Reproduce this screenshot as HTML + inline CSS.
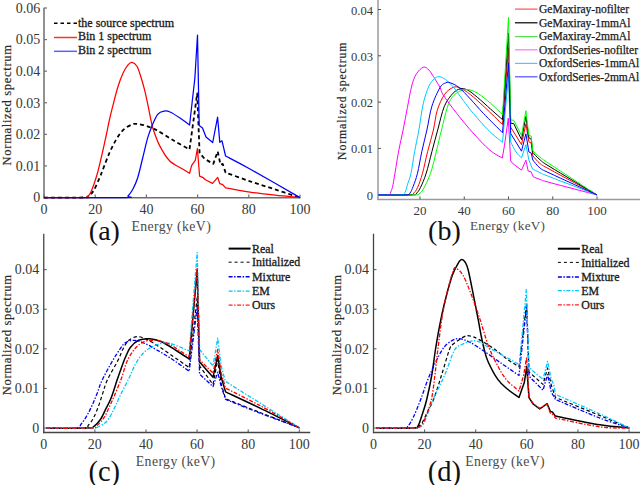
<!DOCTYPE html>
<html><head><meta charset="utf-8"><style>
html,body{margin:0;padding:0;background:#fff;}
body{width:640px;height:485px;overflow:hidden;}
svg{display:block;font-family:"Liberation Serif",serif;}
</style></head><body>
<svg width="640" height="485" viewBox="0 0 640 485">
<rect width="640" height="485" fill="#fff"/>
<line x1="44.00" y1="7.80" x2="44.00" y2="198.40" stroke="#6e6e6e" stroke-width="1.5"/>
<line x1="43.30" y1="197.70" x2="300.50" y2="197.70" stroke="#6e6e6e" stroke-width="1.5"/>
<line x1="44.00" y1="197.50" x2="47.00" y2="197.50" stroke="#6e6e6e" stroke-width="1.2"/>
<text x="40.20" y="202.30" font-size="14" text-anchor="end" fill="#383838">0</text>
<line x1="44.00" y1="165.92" x2="47.00" y2="165.92" stroke="#6e6e6e" stroke-width="1.2"/>
<text x="40.20" y="170.72" font-size="14" text-anchor="end" fill="#383838">0.01</text>
<line x1="44.00" y1="134.33" x2="47.00" y2="134.33" stroke="#6e6e6e" stroke-width="1.2"/>
<text x="40.20" y="139.13" font-size="14" text-anchor="end" fill="#383838">0.02</text>
<line x1="44.00" y1="102.75" x2="47.00" y2="102.75" stroke="#6e6e6e" stroke-width="1.2"/>
<text x="40.20" y="107.55" font-size="14" text-anchor="end" fill="#383838">0.03</text>
<line x1="44.00" y1="71.17" x2="47.00" y2="71.17" stroke="#6e6e6e" stroke-width="1.2"/>
<text x="40.20" y="75.97" font-size="14" text-anchor="end" fill="#383838">0.04</text>
<line x1="44.00" y1="39.58" x2="47.00" y2="39.58" stroke="#6e6e6e" stroke-width="1.2"/>
<text x="40.20" y="44.38" font-size="14" text-anchor="end" fill="#383838">0.05</text>
<line x1="44.00" y1="8.00" x2="47.00" y2="8.00" stroke="#6e6e6e" stroke-width="1.2"/>
<text x="40.20" y="12.80" font-size="14" text-anchor="end" fill="#383838">0.06</text>
<line x1="44.00" y1="197.60" x2="44.00" y2="194.60" stroke="#6e6e6e" stroke-width="1.2"/>
<text x="44.00" y="213.90" font-size="14" text-anchor="middle" fill="#383838">0</text>
<line x1="95.20" y1="197.60" x2="95.20" y2="194.60" stroke="#6e6e6e" stroke-width="1.2"/>
<text x="95.20" y="213.90" font-size="14" text-anchor="middle" fill="#383838">20</text>
<line x1="146.40" y1="197.60" x2="146.40" y2="194.60" stroke="#6e6e6e" stroke-width="1.2"/>
<text x="146.40" y="213.90" font-size="14" text-anchor="middle" fill="#383838">40</text>
<line x1="197.60" y1="197.60" x2="197.60" y2="194.60" stroke="#6e6e6e" stroke-width="1.2"/>
<text x="197.60" y="213.90" font-size="14" text-anchor="middle" fill="#383838">60</text>
<line x1="248.80" y1="197.60" x2="248.80" y2="194.60" stroke="#6e6e6e" stroke-width="1.2"/>
<text x="248.80" y="213.90" font-size="14" text-anchor="middle" fill="#383838">80</text>
<line x1="300.00" y1="197.60" x2="300.00" y2="194.60" stroke="#6e6e6e" stroke-width="1.2"/>
<text x="300.00" y="213.90" font-size="14" text-anchor="middle" fill="#383838">100</text>
<text x="171.10" y="230.60" font-size="13.8" text-anchor="middle" fill="#4a4a4a" textLength="79.40" lengthAdjust="spacing">Energy (keV)</text>
<text transform="translate(10.80 105.20) rotate(-90)" x="0" y="0" font-size="12.6" text-anchor="middle" fill="#2a2a2a" stroke="#2a2a2a" stroke-width="0.18" textLength="120.40" lengthAdjust="spacing">Normalized spectrum</text>
<text x="104.40" y="239.70" font-size="28" text-anchor="middle" fill="#111">(a)</text>
<path d="M44.00 197.60 C50.67 197.58 76.67 197.67 84.00 197.50 C91.33 197.33 86.37 197.80 88.00 196.60 C89.63 195.40 91.88 193.40 93.80 190.30 C95.72 187.20 98.02 181.38 99.50 178.00 C100.98 174.62 101.05 174.17 102.70 170.00 C104.35 165.83 107.25 157.90 109.40 153.00 C111.55 148.10 113.37 144.38 115.60 140.60 C117.83 136.82 120.13 132.97 122.80 130.30 C125.47 127.63 129.30 125.67 131.60 124.60 C133.90 123.53 134.20 123.70 136.60 123.90 C139.00 124.10 142.52 124.67 146.00 125.80 C149.48 126.93 153.02 128.32 157.50 130.70 C161.98 133.08 167.57 136.97 172.90 140.10 C178.23 143.23 186.73 147.93 189.50 149.50 L197.20 93.50 L199.60 153.00 L204.70 158.90 L213.30 163.90 L217.70 151.40 L220.50 164.70 L222.70 163.90 L225.60 172.60 C229.67 174.05 241.77 178.50 250.00 181.30 C258.23 184.10 266.67 186.68 275.00 189.40 C283.33 192.12 295.83 196.23 300.00 197.60" fill="none" stroke="#000000" stroke-width="1.8" stroke-dasharray="4,3" stroke-linejoin="round"/>
<path d="M44.00 197.60 C50.67 197.58 76.83 197.63 84.00 197.50 C91.17 197.37 86.08 197.28 87.00 196.80 C87.92 196.32 88.62 195.93 89.50 194.60 C90.38 193.27 91.10 191.93 92.30 188.80 C93.50 185.67 95.50 179.77 96.70 175.80 C97.90 171.83 98.45 169.30 99.50 165.00 C100.55 160.70 101.85 155.08 103.00 150.00 C104.15 144.92 105.33 139.50 106.40 134.50 C107.47 129.50 108.27 125.02 109.40 120.00 C110.53 114.98 111.75 110.02 113.20 104.40 C114.65 98.78 116.45 91.52 118.10 86.30 C119.75 81.08 121.45 76.68 123.10 73.10 C124.75 69.52 126.48 66.58 128.00 64.80 C129.52 63.02 130.68 62.12 132.20 62.40 C133.72 62.68 135.60 63.90 137.10 66.50 C138.60 69.10 139.97 74.15 141.20 78.00 C142.43 81.85 143.40 85.20 144.50 89.60 C145.60 94.00 146.70 99.18 147.80 104.40 C148.90 109.62 150.18 116.70 151.10 120.90 C152.02 125.10 151.83 125.40 153.30 129.60 C154.77 133.80 157.15 140.87 159.90 146.10 C162.65 151.33 165.95 157.15 169.80 161.00 C173.65 164.85 179.72 167.15 183.00 169.20 C186.28 171.25 188.42 172.62 189.50 173.30 L191.70 165.40 L195.30 160.30 L197.40 148.50 L199.60 176.20 L203.20 177.70 L205.40 179.80 L212.60 183.40 L217.70 177.40 L219.80 183.70 L222.70 184.60 L225.60 187.80 C229.67 188.52 241.77 190.87 250.00 192.10 C258.23 193.33 266.67 194.28 275.00 195.20 C283.33 196.12 295.83 197.20 300.00 197.60" fill="none" stroke="#ff0000" stroke-width="1.25" stroke-linejoin="round"/>
<path d="M44.00 197.60 C57.42 197.58 110.50 197.77 124.50 197.50 C138.50 197.23 126.62 197.37 128.00 196.00 C129.38 194.63 131.18 192.35 132.80 189.30 C134.42 186.25 136.05 182.92 137.70 177.70 C139.35 172.48 141.05 164.60 142.70 158.00 C144.35 151.40 146.05 143.45 147.60 138.10 C149.15 132.75 150.32 129.87 152.00 125.90 C153.68 121.93 155.65 116.77 157.70 114.30 C159.75 111.83 162.25 111.48 164.30 111.10 C166.35 110.72 167.38 110.85 170.00 112.00 C172.62 113.15 176.73 115.83 180.00 118.00 C183.27 120.17 188.00 123.83 189.60 125.00 L194.90 77.70 L197.50 35.20 L199.20 125.50 L202.50 128.00 L206.00 137.00 L212.70 142.50 L217.60 117.20 L219.80 142.30 L222.00 140.80 L225.60 156.00 C229.67 158.17 237.60 162.07 250.00 169.00 C262.40 175.93 291.67 192.83 300.00 197.60" fill="none" stroke="#0000ff" stroke-width="1.25" stroke-linejoin="round"/>
<line x1="54.00" y1="23.30" x2="77.00" y2="23.30" stroke="#000000" stroke-width="1.6" stroke-dasharray="3.5,3"/>
<line x1="54.00" y1="37.50" x2="77.00" y2="37.50" stroke="#ff3030" stroke-width="1.5"/>
<line x1="54.00" y1="51.30" x2="77.00" y2="51.30" stroke="#6060ff" stroke-width="1.5"/>
<text x="78.00" y="26.70" font-size="12" text-anchor="start" fill="#1a1a1a" stroke="#1a1a1a" stroke-width="0.3">the source spectrum</text>
<text x="78.00" y="40.10" font-size="12" text-anchor="start" fill="#1a1a1a" stroke="#1a1a1a" stroke-width="0.3">Bin 1 spectrum</text>
<text x="78.00" y="54.00" font-size="12" text-anchor="start" fill="#1a1a1a" stroke="#1a1a1a" stroke-width="0.3">Bin 2 spectrum</text>
<line x1="378.00" y1="0.00" x2="378.00" y2="200.00" stroke="#9a9a9a" stroke-width="1.5"/>
<line x1="377.30" y1="199.40" x2="640.00" y2="199.40" stroke="#9a9a9a" stroke-width="1.5"/>
<line x1="378.00" y1="194.70" x2="381.00" y2="194.70" stroke="#555" stroke-width="1.0"/>
<text x="373.00" y="199.70" font-size="12.6" text-anchor="end" fill="#383838">0</text>
<line x1="378.00" y1="148.40" x2="381.00" y2="148.40" stroke="#555" stroke-width="1.0"/>
<text x="373.00" y="153.40" font-size="12.6" text-anchor="end" fill="#383838">0.01</text>
<line x1="378.00" y1="102.10" x2="381.00" y2="102.10" stroke="#555" stroke-width="1.0"/>
<text x="373.00" y="107.10" font-size="12.6" text-anchor="end" fill="#383838">0.02</text>
<line x1="378.00" y1="55.80" x2="381.00" y2="55.80" stroke="#555" stroke-width="1.0"/>
<text x="373.00" y="60.80" font-size="12.6" text-anchor="end" fill="#383838">0.03</text>
<line x1="378.00" y1="9.50" x2="381.00" y2="9.50" stroke="#555" stroke-width="1.0"/>
<text x="373.00" y="14.50" font-size="12.6" text-anchor="end" fill="#383838">0.04</text>
<line x1="420.00" y1="199.40" x2="420.00" y2="196.40" stroke="#555" stroke-width="1.0"/>
<text x="420.00" y="215.40" font-size="13" text-anchor="middle" fill="#383838">20</text>
<line x1="464.25" y1="199.40" x2="464.25" y2="196.40" stroke="#555" stroke-width="1.0"/>
<text x="464.25" y="215.40" font-size="13" text-anchor="middle" fill="#383838">40</text>
<line x1="508.50" y1="199.40" x2="508.50" y2="196.40" stroke="#555" stroke-width="1.0"/>
<text x="508.50" y="215.40" font-size="13" text-anchor="middle" fill="#383838">60</text>
<line x1="552.75" y1="199.40" x2="552.75" y2="196.40" stroke="#555" stroke-width="1.0"/>
<text x="552.75" y="215.40" font-size="13" text-anchor="middle" fill="#383838">80</text>
<line x1="597.00" y1="199.40" x2="597.00" y2="196.40" stroke="#555" stroke-width="1.0"/>
<text x="597.00" y="215.40" font-size="13" text-anchor="middle" fill="#383838">100</text>
<text x="507.50" y="229.90" font-size="13.2" text-anchor="middle" fill="#4a4a4a" textLength="75.00" lengthAdjust="spacing">Energy (keV)</text>
<text transform="translate(345.80 101.20) rotate(-90)" x="0" y="0" font-size="11.8" text-anchor="middle" fill="#2a2a2a" stroke="#2a2a2a" stroke-width="0.18" textLength="117.50" lengthAdjust="spacing">Normalized spectrum</text>
<text x="444.40" y="240.00" font-size="28" text-anchor="middle" fill="#111">(b)</text>
<path d="M378.50 194.90 C383.55 194.90 403.05 195.08 408.80 194.90 C414.55 194.72 411.55 195.00 413.00 193.80 C414.45 192.60 415.92 191.12 417.50 187.70 C419.08 184.28 420.82 179.32 422.50 173.30 C424.18 167.28 425.78 158.82 427.60 151.60 C429.42 144.38 431.80 136.85 433.40 130.00 C435.00 123.15 435.37 116.40 437.20 110.50 C439.03 104.60 441.75 98.45 444.40 94.60 C447.05 90.75 450.45 88.48 453.10 87.40 C455.75 86.32 457.42 86.90 460.30 88.10 C463.18 89.30 466.32 91.38 470.40 94.60 C474.48 97.82 479.45 102.42 484.80 107.40 C490.15 112.38 499.55 121.65 502.50 124.50 L508.50 48.00 L510.70 127.20 L521.50 144.60 L525.90 123.90 L528.90 141.80 L531.20 143.00 L532.80 155.80 C534.00 157.08 537.13 161.22 540.00 163.50 C542.87 165.78 540.50 164.27 550.00 169.50 C559.50 174.73 589.17 190.67 597.00 194.90" fill="none" stroke="#ff0000" stroke-width="1.0" stroke-linejoin="round"/>
<path d="M378.50 194.90 C384.03 194.90 405.45 195.08 411.70 194.90 C417.95 194.72 414.55 195.00 416.00 193.80 C417.45 192.60 418.70 191.12 420.40 187.70 C422.10 184.28 424.28 179.32 426.20 173.30 C428.12 167.28 429.98 158.82 431.90 151.60 C433.82 144.38 435.62 137.57 437.70 130.00 C439.78 122.43 441.83 112.33 444.40 106.20 C446.97 100.07 450.45 96.08 453.10 93.20 C455.75 90.32 457.90 89.43 460.30 88.90 C462.70 88.37 464.62 88.57 467.50 90.00 C470.38 91.43 473.75 94.32 477.60 97.50 C481.45 100.68 486.45 105.42 490.60 109.10 C494.75 112.78 500.52 117.85 502.50 119.60 L508.50 33.10 L510.70 123.10 L513.80 123.70 L521.50 139.60 L525.90 116.50 L528.90 137.70 L531.20 139.30 L532.80 152.50 C534.00 153.72 537.13 157.42 540.00 159.80 C542.87 162.18 540.50 160.95 550.00 166.80 C559.50 172.65 589.17 190.22 597.00 194.90" fill="none" stroke="#000000" stroke-width="1.0" stroke-linejoin="round"/>
<path d="M378.50 194.90 C384.52 194.90 407.85 195.08 414.60 194.90 C421.35 194.72 417.55 194.77 419.00 193.80 C420.45 192.83 421.38 192.52 423.30 189.10 C425.22 185.68 428.33 179.55 430.50 173.30 C432.67 167.05 434.47 158.82 436.30 151.60 C438.13 144.38 439.42 138.05 441.50 130.00 C443.58 121.95 446.15 109.55 448.80 103.30 C451.45 97.05 454.28 94.78 457.40 92.50 C460.52 90.22 464.13 89.48 467.50 89.60 C470.87 89.72 473.75 90.92 477.60 93.20 C481.45 95.48 486.45 99.73 490.60 103.30 C494.75 106.87 500.52 112.72 502.50 114.60 L508.50 17.40 L510.70 119.80 L513.80 120.40 L521.50 135.50 L525.90 110.70 L528.90 135.50 L531.20 136.00 L532.80 150.90 C534.00 151.95 537.13 154.98 540.00 157.20 C542.87 159.42 540.50 157.92 550.00 164.20 C559.50 170.48 589.17 189.78 597.00 194.90" fill="none" stroke="#00ff00" stroke-width="1.0" stroke-linejoin="round"/>
<path d="M378.50 194.90 C380.20 194.90 386.65 195.38 388.70 194.90 C390.75 194.42 390.08 193.68 390.80 192.00 C391.52 190.32 392.15 188.88 393.00 184.80 C393.85 180.72 394.93 173.27 395.90 167.50 C396.87 161.73 397.60 156.45 398.80 150.20 C400.00 143.95 401.67 137.10 403.10 130.00 C404.53 122.90 405.97 114.93 407.40 107.60 C408.83 100.27 410.25 91.53 411.70 86.00 C413.15 80.47 414.17 77.53 416.10 74.40 C418.03 71.27 421.15 67.92 423.30 67.20 C425.45 66.48 427.08 68.17 429.00 70.10 C430.92 72.03 432.97 75.92 434.80 78.80 C436.63 81.68 438.58 84.70 440.00 87.40 C441.42 90.10 440.55 90.72 443.30 95.00 C446.05 99.28 451.55 106.78 456.50 113.10 C461.45 119.42 467.52 126.78 473.00 132.90 C478.48 139.02 484.52 145.60 489.40 149.80 C494.28 154.00 500.15 156.72 502.30 158.10 L504.40 145.90 L508.30 118.20 L510.70 161.00 L513.10 163.90 L521.50 170.10 L525.90 160.20 L528.20 171.10 L531.10 171.80 L533.30 176.90 C534.42 177.32 537.22 178.45 540.00 179.40 C542.78 180.35 540.50 180.02 550.00 182.60 C559.50 185.18 589.17 192.85 597.00 194.90" fill="none" stroke="#ff00ff" stroke-width="1.0" stroke-linejoin="round"/>
<path d="M378.50 194.90 C382.35 194.90 397.18 195.30 401.60 194.90 C406.02 194.50 404.03 194.18 405.00 192.50 C405.97 190.82 406.40 188.00 407.40 184.80 C408.40 181.60 409.80 178.83 411.00 173.30 C412.20 167.77 413.28 158.82 414.60 151.60 C415.92 144.38 417.45 138.05 418.90 130.00 C420.35 121.95 421.62 110.63 423.30 103.30 C424.98 95.97 427.17 90.08 429.00 86.00 C430.83 81.92 432.68 80.37 434.30 78.80 C435.92 77.23 437.02 76.60 438.70 76.60 C440.38 76.60 442.00 77.12 444.40 78.80 C446.80 80.48 449.97 83.10 453.10 86.70 C456.23 90.30 459.83 95.95 463.20 100.40 C466.57 104.85 468.93 108.27 473.30 113.40 C477.67 118.53 484.53 126.38 489.40 131.20 C494.27 136.02 500.32 140.45 502.50 142.30 L508.50 75.00 L510.70 142.00 C511.58 143.67 514.20 149.37 516.00 152.00 C517.80 154.63 520.58 156.83 521.50 157.80 L525.90 144.60 L528.90 160.00 L532.50 168.90 C533.75 169.53 537.08 171.37 540.00 172.70 C542.92 174.03 540.50 173.20 550.00 176.90 C559.50 180.60 589.17 191.90 597.00 194.90" fill="none" stroke="#00c8ff" stroke-width="1.0" stroke-linejoin="round"/>
<path d="M378.50 194.90 C383.08 194.90 400.75 195.22 406.00 194.90 C411.25 194.58 408.80 194.43 410.00 193.00 C411.20 191.57 411.95 189.58 413.20 186.30 C414.45 183.02 416.07 179.08 417.50 173.30 C418.93 167.52 420.23 158.82 421.80 151.60 C423.37 144.38 425.22 137.57 426.90 130.00 C428.58 122.43 429.70 113.30 431.90 106.20 C434.10 99.10 437.77 91.30 440.10 87.40 C442.43 83.50 444.22 83.57 445.90 82.80 C447.58 82.03 448.03 82.03 450.20 82.80 C452.37 83.57 455.53 84.70 458.90 87.40 C462.27 90.10 466.32 94.67 470.40 99.00 C474.48 103.33 478.05 107.78 483.40 113.40 C488.75 119.02 499.32 129.48 502.50 132.70 L508.50 62.80 L510.70 133.50 L521.50 151.20 L525.90 133.80 L528.90 152.00 L531.20 153.00 L532.80 160.00 C534.00 161.33 537.13 165.78 540.00 168.00 C542.87 170.22 540.50 168.82 550.00 173.30 C559.50 177.78 589.17 191.30 597.00 194.90" fill="none" stroke="#0000ff" stroke-width="1.0" stroke-linejoin="round"/>
<line x1="515.00" y1="9.10" x2="537.50" y2="9.10" stroke="#ff5050" stroke-width="1.2"/>
<text x="539.00" y="12.90" font-size="11.5" text-anchor="start" fill="#1a1a1a" stroke="#1a1a1a" stroke-width="0.25">GeMaxiray-nofilter</text>
<line x1="515.00" y1="22.80" x2="537.50" y2="22.80" stroke="#000" stroke-width="1.2"/>
<text x="539.00" y="26.60" font-size="11.5" text-anchor="start" fill="#1a1a1a" stroke="#1a1a1a" stroke-width="0.25">GeMaxiray-1mmAl</text>
<line x1="515.00" y1="36.60" x2="537.50" y2="36.60" stroke="#50e050" stroke-width="1.2"/>
<text x="539.00" y="40.40" font-size="11.5" text-anchor="start" fill="#1a1a1a" stroke="#1a1a1a" stroke-width="0.25">GeMaxiray-2mmAl</text>
<line x1="515.00" y1="49.80" x2="537.50" y2="49.80" stroke="#ff70ff" stroke-width="1.2"/>
<text x="539.00" y="53.60" font-size="11.5" text-anchor="start" fill="#1a1a1a" stroke="#1a1a1a" stroke-width="0.25">OxfordSeries-nofilter</text>
<line x1="515.00" y1="63.40" x2="537.50" y2="63.40" stroke="#50c8ff" stroke-width="1.2"/>
<text x="539.00" y="67.20" font-size="11.5" text-anchor="start" fill="#1a1a1a" stroke="#1a1a1a" stroke-width="0.25">OxfordSeries-1mmAl</text>
<line x1="515.00" y1="76.80" x2="537.50" y2="76.80" stroke="#5050ff" stroke-width="1.2"/>
<text x="539.00" y="80.60" font-size="11.5" text-anchor="start" fill="#1a1a1a" stroke="#1a1a1a" stroke-width="0.25">OxfordSeries-2mmAl</text>
<line x1="43.75" y1="233.70" x2="43.75" y2="433.20" stroke="#444" stroke-width="1.3"/>
<line x1="43.15" y1="432.40" x2="310.25" y2="432.40" stroke="#444" stroke-width="1.5"/>
<line x1="43.75" y1="428.00" x2="46.75" y2="428.00" stroke="#555" stroke-width="1.0"/>
<text x="39.35" y="432.80" font-size="14" text-anchor="end" fill="#383838">0</text>
<line x1="43.75" y1="388.41" x2="46.75" y2="388.41" stroke="#555" stroke-width="1.0"/>
<text x="39.35" y="393.21" font-size="14" text-anchor="end" fill="#383838">0.01</text>
<line x1="43.75" y1="348.82" x2="46.75" y2="348.82" stroke="#555" stroke-width="1.0"/>
<text x="39.35" y="353.62" font-size="14" text-anchor="end" fill="#383838">0.02</text>
<line x1="43.75" y1="309.23" x2="46.75" y2="309.23" stroke="#555" stroke-width="1.0"/>
<text x="39.35" y="314.03" font-size="14" text-anchor="end" fill="#383838">0.03</text>
<line x1="43.75" y1="269.64" x2="46.75" y2="269.64" stroke="#555" stroke-width="1.0"/>
<text x="39.35" y="274.44" font-size="14" text-anchor="end" fill="#383838">0.04</text>
<line x1="43.75" y1="432.40" x2="43.75" y2="429.40" stroke="#555" stroke-width="1.0"/>
<text x="43.75" y="449.20" font-size="14" text-anchor="middle" fill="#383838">0</text>
<line x1="94.86" y1="432.40" x2="94.86" y2="429.40" stroke="#555" stroke-width="1.0"/>
<text x="94.86" y="449.20" font-size="14" text-anchor="middle" fill="#383838">20</text>
<line x1="145.97" y1="432.40" x2="145.97" y2="429.40" stroke="#555" stroke-width="1.0"/>
<text x="145.97" y="449.20" font-size="14" text-anchor="middle" fill="#383838">40</text>
<line x1="197.08" y1="432.40" x2="197.08" y2="429.40" stroke="#555" stroke-width="1.0"/>
<text x="197.08" y="449.20" font-size="14" text-anchor="middle" fill="#383838">60</text>
<line x1="248.19" y1="432.40" x2="248.19" y2="429.40" stroke="#555" stroke-width="1.0"/>
<text x="248.19" y="449.20" font-size="14" text-anchor="middle" fill="#383838">80</text>
<line x1="299.30" y1="432.40" x2="299.30" y2="429.40" stroke="#555" stroke-width="1.0"/>
<text x="299.30" y="449.20" font-size="14" text-anchor="middle" fill="#383838">100</text>
<text x="175.50" y="466.00" font-size="13.8" text-anchor="middle" fill="#4a4a4a" textLength="79.40" lengthAdjust="spacing">Energy (keV)</text>
<text transform="translate(10.90 335.10) rotate(-90)" x="0" y="0" font-size="12.6" text-anchor="middle" fill="#2a2a2a" stroke="#2a2a2a" stroke-width="0.18" textLength="120.40" lengthAdjust="spacing">Normalized spectrum</text>
<text x="104.30" y="480.50" font-size="28.5" text-anchor="middle" fill="#111">(c)</text>
<line x1="228.60" y1="248.60" x2="250.60" y2="248.60" stroke="#000000" stroke-width="2.0"/>
<text x="252.00" y="252.80" font-size="11.9" text-anchor="start" fill="#1a1a1a" stroke="#1a1a1a" stroke-width="0.3">Real</text>
<line x1="228.60" y1="262.20" x2="250.60" y2="262.20" stroke="#000000" stroke-width="1.0" stroke-dasharray="3,3"/>
<text x="252.00" y="266.40" font-size="11.9" text-anchor="start" fill="#1a1a1a" stroke="#1a1a1a" stroke-width="0.3">Initialized</text>
<line x1="228.60" y1="276.80" x2="250.60" y2="276.80" stroke="#0000e0" stroke-width="1.5" stroke-dasharray="4,1.5,1.5,1.5"/>
<text x="252.00" y="281.00" font-size="11.9" text-anchor="start" fill="#1a1a1a" stroke="#1a1a1a" stroke-width="0.3">Mixture</text>
<line x1="228.60" y1="291.10" x2="250.60" y2="291.10" stroke="#00c8ff" stroke-width="1.2" stroke-dasharray="4,1.5,1.5,1.5"/>
<text x="252.00" y="295.30" font-size="11.9" text-anchor="start" fill="#1a1a1a" stroke="#1a1a1a" stroke-width="0.3">EM</text>
<line x1="228.60" y1="305.20" x2="250.60" y2="305.20" stroke="#ff2020" stroke-width="1.2" stroke-dasharray="4,1.5,1.5,1.5"/>
<text x="252.00" y="309.40" font-size="11.9" text-anchor="start" fill="#1a1a1a" stroke="#1a1a1a" stroke-width="0.3">Ours</text>
<line x1="373.50" y1="233.70" x2="373.50" y2="433.20" stroke="#444" stroke-width="1.3"/>
<line x1="372.90" y1="432.40" x2="640.00" y2="432.40" stroke="#444" stroke-width="1.5"/>
<line x1="373.50" y1="428.00" x2="376.50" y2="428.00" stroke="#555" stroke-width="1.0"/>
<text x="369.10" y="432.80" font-size="14" text-anchor="end" fill="#383838">0</text>
<line x1="373.50" y1="388.41" x2="376.50" y2="388.41" stroke="#555" stroke-width="1.0"/>
<text x="369.10" y="393.21" font-size="14" text-anchor="end" fill="#383838">0.01</text>
<line x1="373.50" y1="348.82" x2="376.50" y2="348.82" stroke="#555" stroke-width="1.0"/>
<text x="369.10" y="353.62" font-size="14" text-anchor="end" fill="#383838">0.02</text>
<line x1="373.50" y1="309.23" x2="376.50" y2="309.23" stroke="#555" stroke-width="1.0"/>
<text x="369.10" y="314.03" font-size="14" text-anchor="end" fill="#383838">0.03</text>
<line x1="373.50" y1="269.64" x2="376.50" y2="269.64" stroke="#555" stroke-width="1.0"/>
<text x="369.10" y="274.44" font-size="14" text-anchor="end" fill="#383838">0.04</text>
<line x1="373.50" y1="432.40" x2="373.50" y2="429.40" stroke="#555" stroke-width="1.0"/>
<text x="373.50" y="449.20" font-size="14" text-anchor="middle" fill="#383838">0</text>
<line x1="424.61" y1="432.40" x2="424.61" y2="429.40" stroke="#555" stroke-width="1.0"/>
<text x="424.61" y="449.20" font-size="14" text-anchor="middle" fill="#383838">20</text>
<line x1="475.72" y1="432.40" x2="475.72" y2="429.40" stroke="#555" stroke-width="1.0"/>
<text x="475.72" y="449.20" font-size="14" text-anchor="middle" fill="#383838">40</text>
<line x1="526.83" y1="432.40" x2="526.83" y2="429.40" stroke="#555" stroke-width="1.0"/>
<text x="526.83" y="449.20" font-size="14" text-anchor="middle" fill="#383838">60</text>
<line x1="577.94" y1="432.40" x2="577.94" y2="429.40" stroke="#555" stroke-width="1.0"/>
<text x="577.94" y="449.20" font-size="14" text-anchor="middle" fill="#383838">80</text>
<line x1="629.05" y1="432.40" x2="629.05" y2="429.40" stroke="#555" stroke-width="1.0"/>
<text x="629.05" y="449.20" font-size="14" text-anchor="middle" fill="#383838">100</text>
<text x="505.00" y="466.00" font-size="13.8" text-anchor="middle" fill="#4a4a4a" textLength="79.40" lengthAdjust="spacing">Energy (keV)</text>
<text transform="translate(340.90 335.10) rotate(-90)" x="0" y="0" font-size="12.6" text-anchor="middle" fill="#2a2a2a" stroke="#2a2a2a" stroke-width="0.18" textLength="120.40" lengthAdjust="spacing">Normalized spectrum</text>
<text x="444.30" y="480.50" font-size="28.5" text-anchor="middle" fill="#111">(d)</text>
<line x1="557.90" y1="248.70" x2="579.90" y2="248.70" stroke="#000000" stroke-width="2.0"/>
<text x="581.30" y="252.90" font-size="11.9" text-anchor="start" fill="#1a1a1a" stroke="#1a1a1a" stroke-width="0.3">Real</text>
<line x1="557.90" y1="262.40" x2="579.90" y2="262.40" stroke="#000000" stroke-width="1.0" stroke-dasharray="3,3"/>
<text x="581.30" y="266.60" font-size="11.9" text-anchor="start" fill="#1a1a1a" stroke="#1a1a1a" stroke-width="0.3">Initialized</text>
<line x1="557.90" y1="276.90" x2="579.90" y2="276.90" stroke="#0000e0" stroke-width="1.5" stroke-dasharray="4,1.5,1.5,1.5"/>
<text x="581.30" y="281.10" font-size="11.9" text-anchor="start" fill="#1a1a1a" stroke="#1a1a1a" stroke-width="0.3">Mixture</text>
<line x1="557.90" y1="290.60" x2="579.90" y2="290.60" stroke="#00c8ff" stroke-width="1.2" stroke-dasharray="4,1.5,1.5,1.5"/>
<text x="581.30" y="294.80" font-size="11.9" text-anchor="start" fill="#1a1a1a" stroke="#1a1a1a" stroke-width="0.3">EM</text>
<line x1="557.90" y1="304.80" x2="579.90" y2="304.80" stroke="#ff2020" stroke-width="1.2" stroke-dasharray="4,1.5,1.5,1.5"/>
<text x="581.30" y="309.00" font-size="11.9" text-anchor="start" fill="#1a1a1a" stroke="#1a1a1a" stroke-width="0.3">Ours</text>
<path d="M46.40 428.20 C53.33 428.17 80.17 428.22 88.00 428.00 C95.83 427.78 91.30 428.37 93.40 426.90 C95.50 425.43 98.53 422.20 100.60 419.20 C102.67 416.20 104.08 412.33 105.80 408.90 C107.52 405.47 109.02 403.42 110.90 398.60 C112.78 393.78 115.58 384.47 117.10 380.00 C118.62 375.53 118.65 375.50 120.00 371.80 C121.35 368.10 123.48 361.85 125.20 357.80 C126.92 353.75 128.07 350.42 130.30 347.50 C132.53 344.58 135.33 341.75 138.60 340.30 C141.87 338.85 146.08 338.55 149.90 338.80 C153.72 339.05 157.12 339.85 161.50 341.80 C165.88 343.75 171.58 347.63 176.20 350.50 C180.82 353.37 187.03 357.58 189.20 359.00 L197.20 270.00 L199.60 361.90 L213.00 377.30 L217.70 355.70 L221.20 377.30 L225.60 391.90 C231.33 394.60 247.68 402.12 260.00 408.10 C272.32 414.08 292.92 424.52 299.50 427.80" fill="none" stroke="#000000" stroke-width="1.5" stroke-linejoin="round"/>
<path d="M46.40 428.20 C52.67 428.17 77.03 428.47 84.00 428.00 C90.97 427.53 86.63 427.05 88.20 425.40 C89.77 423.75 91.67 421.37 93.40 418.10 C95.13 414.83 97.05 409.92 98.60 405.80 C100.15 401.68 101.25 397.70 102.70 393.40 C104.15 389.10 104.80 385.42 107.30 380.00 C109.80 374.58 115.08 366.07 117.70 360.90 C120.32 355.73 121.28 352.32 123.00 349.00 C124.72 345.68 125.92 343.02 128.00 341.00 C130.08 338.98 133.05 337.45 135.50 336.90 C137.95 336.35 139.62 336.62 142.70 337.70 C145.78 338.78 149.45 340.65 154.00 343.40 C158.55 346.15 164.13 350.17 170.00 354.20 C175.87 358.23 186.00 365.37 189.20 367.60 L197.20 297.00 L199.60 366.00 L213.00 384.50 L217.70 359.80 L221.20 384.00 L225.60 398.80 C231.33 401.08 247.68 407.67 260.00 412.50 C272.32 417.33 292.92 425.25 299.50 427.80" fill="none" stroke="#000000" stroke-width="1.2" stroke-dasharray="3.5,2.5" stroke-linejoin="round"/>
<path d="M46.40 428.20 C51.33 428.17 70.23 428.65 76.00 428.00 C81.77 427.35 79.13 426.45 81.00 424.30 C82.87 422.15 85.30 418.37 87.20 415.10 C89.10 411.83 90.68 408.48 92.40 404.70 C94.12 400.92 95.87 396.52 97.50 392.40 C99.13 388.28 99.70 385.25 102.20 380.00 C104.70 374.75 109.53 366.05 112.50 360.90 C115.47 355.75 117.88 352.10 120.00 349.10 C122.12 346.10 122.80 344.37 125.20 342.90 C127.60 341.43 130.97 340.13 134.40 340.30 C137.83 340.47 142.18 342.35 145.80 343.90 C149.42 345.45 152.07 347.28 156.10 349.60 C160.13 351.92 164.48 354.20 170.00 357.80 C175.52 361.40 186.00 368.97 189.20 371.20 L197.20 307.00 L199.60 374.20 L213.00 386.60 L217.70 372.20 L221.20 386.60 L225.60 399.40 C231.33 401.68 247.68 408.37 260.00 413.10 C272.32 417.83 292.92 425.35 299.50 427.80" fill="none" stroke="#0000ff" stroke-width="1.3" stroke-dasharray="4,1.6,1.4,1.6" stroke-linejoin="round"/>
<path d="M46.40 428.20 C54.00 428.17 83.65 428.07 92.00 428.00 C100.35 427.93 94.03 428.93 96.50 427.80 C98.97 426.67 103.88 424.35 106.80 421.20 C109.72 418.05 111.77 413.18 114.00 408.90 C116.23 404.62 117.73 400.57 120.20 395.50 C122.67 390.43 126.25 383.75 128.80 378.50 C131.35 373.25 133.18 368.13 135.50 364.00 C137.82 359.87 140.13 356.45 142.70 353.70 C145.27 350.95 147.82 349.22 150.90 347.50 C153.98 345.78 158.35 344.18 161.20 343.40 C164.05 342.62 165.50 342.45 168.00 342.80 C170.50 343.15 172.67 344.13 176.20 345.50 C179.73 346.87 187.03 350.08 189.20 351.00 L197.20 252.40 L199.60 349.50 L213.00 366.00 L217.70 338.10 L221.20 366.00 L225.30 381.30 L299.50 427.80" fill="none" stroke="#00c8ff" stroke-width="1.3" stroke-dasharray="4,1.6,1.4,1.6" stroke-linejoin="round"/>
<path d="M46.40 428.20 C53.67 428.17 81.65 428.38 90.00 428.00 C98.35 427.62 94.22 427.55 96.50 425.90 C98.78 424.25 101.63 421.12 103.70 418.10 C105.77 415.08 107.18 411.40 108.90 407.80 C110.62 404.20 111.95 401.30 114.00 396.50 C116.05 391.70 119.00 384.93 121.20 379.00 C123.40 373.07 124.82 366.07 127.20 360.90 C129.58 355.73 132.75 351.17 135.50 348.00 C138.25 344.83 140.95 343.18 143.70 341.90 C146.45 340.62 149.08 340.40 152.00 340.30 C154.92 340.20 158.20 340.62 161.20 341.30 C164.20 341.98 167.02 342.90 170.00 344.40 C172.98 345.90 175.90 348.23 179.10 350.30 C182.30 352.37 187.52 355.72 189.20 356.80 L197.20 267.50 L199.60 359.80 L213.00 373.20 L217.70 349.50 L221.20 373.20 L225.60 388.10 C231.33 391.02 247.68 398.98 260.00 405.60 C272.32 412.22 292.92 424.10 299.50 427.80" fill="none" stroke="#ff0000" stroke-width="1.3" stroke-dasharray="4,1.6,1.4,1.6" stroke-linejoin="round"/>
<path d="M376.10 428.20 C382.25 428.17 406.02 428.37 413.00 428.00 C419.98 427.63 416.45 428.30 418.00 426.00 C419.55 423.70 420.87 418.53 422.30 414.20 C423.73 409.87 425.02 406.53 426.60 400.00 C428.18 393.47 430.33 383.33 431.80 375.00 C433.27 366.67 434.10 358.20 435.40 350.00 C436.70 341.80 437.95 334.13 439.60 325.80 C441.25 317.47 443.15 308.50 445.30 300.00 C447.45 291.50 450.22 281.15 452.50 274.80 C454.78 268.45 457.45 264.45 459.00 261.90 C460.55 259.35 460.80 259.48 461.80 259.50 C462.80 259.52 463.93 260.25 465.00 262.00 C466.07 263.75 466.73 264.15 468.20 270.00 C469.67 275.85 472.08 288.57 473.80 297.10 C475.52 305.63 477.27 314.72 478.50 321.20 C479.73 327.68 480.28 331.45 481.20 336.00 C482.12 340.55 482.87 344.25 484.00 348.50 C485.13 352.75 485.70 356.35 488.00 361.50 C490.30 366.65 494.52 374.77 497.80 379.40 C501.08 384.03 504.17 386.28 507.70 389.30 C511.23 392.32 517.12 396.13 519.00 397.50 L524.30 382.60 L526.70 366.50 L529.00 397.60 L533.10 404.00 L539.70 409.00 L547.20 403.70 L550.30 411.40 L552.40 412.00 L555.50 416.10 C562.92 417.55 587.67 422.82 600.00 424.80 C612.33 426.78 624.58 427.47 629.50 428.00" fill="none" stroke="#000000" stroke-width="1.5" stroke-linejoin="round"/>
<path d="M376.10 428.20 C382.08 428.17 405.18 428.20 412.00 428.00 C418.82 427.80 415.33 427.83 417.00 427.00 C418.67 426.17 420.20 425.67 422.00 423.00 C423.80 420.33 425.90 414.83 427.80 411.00 C429.70 407.17 431.10 406.00 433.40 400.00 C435.70 394.00 438.95 383.33 441.60 375.00 C444.25 366.67 447.40 355.12 449.30 350.00 C451.20 344.88 450.50 346.53 453.00 344.30 C455.50 342.07 461.47 337.98 464.30 336.60 C467.13 335.22 467.72 335.60 470.00 336.00 C472.28 336.40 474.18 337.00 478.00 339.00 C481.82 341.00 487.95 344.57 492.90 348.00 C497.85 351.43 503.35 356.47 507.70 359.60 C512.05 362.73 517.12 365.60 519.00 366.80 L526.60 303.00 L529.00 372.00 L543.00 384.40 L547.60 367.90 L551.20 385.00 L555.50 397.50 C562.92 400.52 587.67 410.52 600.00 415.60 C612.33 420.68 624.58 425.93 629.50 428.00" fill="none" stroke="#000000" stroke-width="1.2" stroke-dasharray="3.5,2.5" stroke-linejoin="round"/>
<path d="M376.10 428.20 C380.75 428.17 398.68 428.37 404.00 428.00 C409.32 427.63 406.50 427.68 408.00 426.00 C409.50 424.32 410.92 422.23 413.00 417.90 C415.08 413.57 417.72 407.15 420.50 400.00 C423.28 392.85 426.10 383.33 429.70 375.00 C433.30 366.67 438.57 355.63 442.10 350.00 C445.63 344.37 448.05 343.08 450.90 341.20 C453.75 339.32 456.02 338.52 459.20 338.70 C462.38 338.88 466.03 340.33 470.00 342.30 C473.97 344.27 478.08 347.22 483.00 350.50 C487.92 353.78 493.50 357.83 499.50 362.00 C505.50 366.17 515.75 373.25 519.00 375.50 L526.60 306.00 L529.00 376.20 L543.00 390.20 L547.60 374.50 L551.20 391.80 L555.50 399.50 C562.92 402.60 587.67 413.35 600.00 418.10 C612.33 422.85 624.58 426.35 629.50 428.00" fill="none" stroke="#0000ff" stroke-width="1.3" stroke-dasharray="4,1.6,1.4,1.6" stroke-linejoin="round"/>
<path d="M376.10 428.20 C382.42 428.17 406.92 428.12 414.00 428.00 C421.08 427.88 416.93 428.33 418.60 427.50 C420.27 426.67 421.63 427.58 424.00 423.00 C426.37 418.42 429.35 408.00 432.80 400.00 C436.25 392.00 441.08 383.33 444.70 375.00 C448.32 366.67 451.62 355.08 454.50 350.00 C457.38 344.92 459.42 345.92 462.00 344.50 C464.58 343.08 467.33 342.02 470.00 341.50 C472.67 340.98 474.47 340.17 478.00 341.40 C481.53 342.63 486.25 346.13 491.20 348.90 C496.15 351.67 503.00 355.37 507.70 358.00 C512.40 360.63 517.45 363.58 519.40 364.70 L526.30 289.50 L529.00 367.10 L532.30 370.40 L543.00 379.40 L547.60 361.30 L551.20 379.40 L553.70 384.40 L555.50 394.40 C562.92 397.67 587.67 408.40 600.00 414.00 C612.33 419.60 624.58 425.67 629.50 428.00" fill="none" stroke="#00c8ff" stroke-width="1.3" stroke-dasharray="4,1.6,1.4,1.6" stroke-linejoin="round"/>
<path d="M376.10 428.20 C382.58 428.17 407.85 428.20 415.00 428.00 C422.15 427.80 417.50 428.17 419.00 427.00 C420.50 425.83 421.95 425.50 424.00 421.00 C426.05 416.50 429.48 407.67 431.30 400.00 C433.12 392.33 433.82 383.33 434.90 375.00 C435.98 366.67 436.57 359.88 437.80 350.00 C439.03 340.12 440.63 325.75 442.30 315.70 C443.97 305.65 445.95 297.28 447.80 289.70 C449.65 282.12 452.00 273.75 453.40 270.20 C454.80 266.65 454.65 267.63 456.20 268.40 C457.75 269.17 460.38 270.95 462.70 274.80 C465.02 278.65 467.32 284.38 470.10 291.50 C472.88 298.62 476.42 308.63 479.40 317.50 C482.38 326.37 485.20 337.13 488.00 344.70 C490.80 352.27 493.18 357.12 496.20 362.90 C499.22 368.68 502.30 374.72 506.10 379.40 C509.90 384.08 516.85 389.07 519.00 391.00 L523.70 375.00 L526.60 357.30 L529.00 397.60 L533.10 403.30 L539.70 408.30 L547.10 404.20 L550.30 413.00 L552.40 414.00 L555.50 418.10 C562.92 419.57 587.67 425.25 600.00 426.90 C612.33 428.55 624.58 427.82 629.50 428.00" fill="none" stroke="#ff0000" stroke-width="1.3" stroke-dasharray="4,1.6,1.4,1.6" stroke-linejoin="round"/>
</svg>
</body></html>
